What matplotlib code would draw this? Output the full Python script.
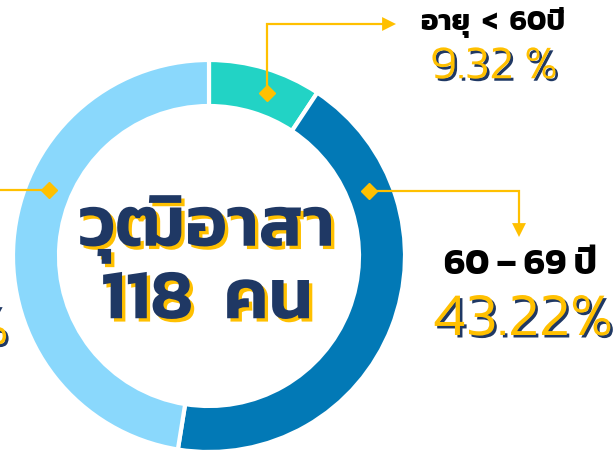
import matplotlib
matplotlib.use("Agg")
import matplotlib.pyplot as plt
import matplotlib.patheffects as pe
from matplotlib import font_manager as fm
import numpy as np

# ---- data ----
group_labels = ["อายุ  <  60ปี", "60 – 69 ปี", "70 ปีขึ้นไป"]
group_shares = [9.32, 43.22, 47.46]
group_colors = ["#22D3C5", "#0279B6", "#8AD8FC"]
center_title = "วุฒิอาสา"
center_total = "118  คน"

W, H = 615, 455
GOLD = "#FFC000"
NAVY = "#1F3864"
FONT = ["Kanit", "DejaVu Sans"]

# pick Kanit Light file for the percentages if present
light_file = None
for f in fm.findSystemFonts():
    if f.split("/")[-1].lower() == "kanit-light.ttf":
        light_file = f
        break

def pct_font(size):
    if light_file:
        return fm.FontProperties(fname=light_file, size=size)
    return fm.FontProperties(family=FONT, weight="normal", size=size)

fig = plt.figure(figsize=(W / 100, H / 100), dpi=100)
ax = fig.add_axes([0, 0, 1, 1])

def Y(py):
    return H - py

cx, cy, R, ring = 209, Y(256), 196, 46

ax.pie(group_shares, colors=group_colors, radius=R, center=(cx, cy),
       startangle=90, counterclock=False,
       wedgeprops=dict(width=ring, edgecolor="white", linewidth=3))
ax.set_aspect("auto")
ax.set_xlim(0, W)
ax.set_ylim(0, H)
ax.axis("off")

def on_ring(angle_from_top, r=R - ring / 2):
    a = np.deg2rad(angle_from_top)
    return cx + r * np.sin(a), cy + r * np.cos(a)

# ---- leader lines ----
lw = 1.6
# teal
x0, y0 = on_ring(19.6)
ax.plot([x0, x0, 383], [y0, Y(24), Y(24)], color=GOLD, lw=lw, solid_joinstyle="miter")
ax.plot([x0], [y0], marker="D", ms=8, color=GOLD, mec=GOLD)
ax.annotate("", xy=(396, Y(24)), xytext=(380, Y(24)),
            arrowprops=dict(arrowstyle="-|>,head_length=1.0,head_width=0.5",
                            color=GOLD, lw=0, shrinkA=0, shrinkB=0))
# dark blue
x1, y1 = on_ring(67.9)
ax.plot([x1, 519, 519], [y1, y1, Y(224)], color=GOLD, lw=lw, solid_joinstyle="miter")
ax.plot([x1], [y1], marker="D", ms=8, color=GOLD, mec=GOLD)
ax.annotate("", xy=(519, Y(237)), xytext=(519, Y(221)),
            arrowprops=dict(arrowstyle="-|>,head_length=1.0,head_width=0.5",
                            color=GOLD, lw=0, shrinkA=0, shrinkB=0))
# light blue
x2, y2 = on_ring(292.3)
ax.plot([x2, -5], [y2, y2], color=GOLD, lw=lw)
ax.plot([x2], [y2], marker="D", ms=8, color=GOLD, mec=GOLD)

# ---- texts ----
pct_fx = [pe.SimplePatchShadow(offset=(1.8, -1.8), shadow_rgbFace=NAVY, alpha=1), pe.Normal()]
ctr_fx = [pe.SimplePatchShadow(offset=(2.4, -2.4), shadow_rgbFace=GOLD, alpha=1), pe.Normal()]

ax.text(493, Y(23), group_labels[0], fontsize=21, fontweight="bold", family=FONT,
        ha="center", va="center", color="black")
ax.text(494, Y(67), f"{group_shares[0]:.2f} %", fontproperties=pct_font(34),
        ha="center", va="center", color=GOLD, path_effects=pct_fx)

ax.text(520, Y(266), group_labels[1], fontsize=26, fontweight="bold", family=FONT,
        ha="center", va="center", color="black")
ax.text(523, Y(321), f"{group_shares[1]:.2f}%", fontproperties=pct_font(44),
        ha="center", va="center", color=GOLD, path_effects=pct_fx)

ax.text(9, Y(344), f"{group_shares[2]:.2f}%", fontproperties=pct_font(44),
        ha="right", va="baseline", color=GOLD, path_effects=pct_fx)

ax.text(207, Y(229), center_title, fontsize=51, fontweight="semibold", family=FONT,
        ha="center", va="center", color=NAVY, path_effects=ctr_fx)
ax.text(207, Y(302), center_total, fontsize=51, fontweight="semibold", family=FONT,
        ha="center", va="center", color=NAVY, path_effects=ctr_fx)

fig.savefig("out.png", dpi=100)
